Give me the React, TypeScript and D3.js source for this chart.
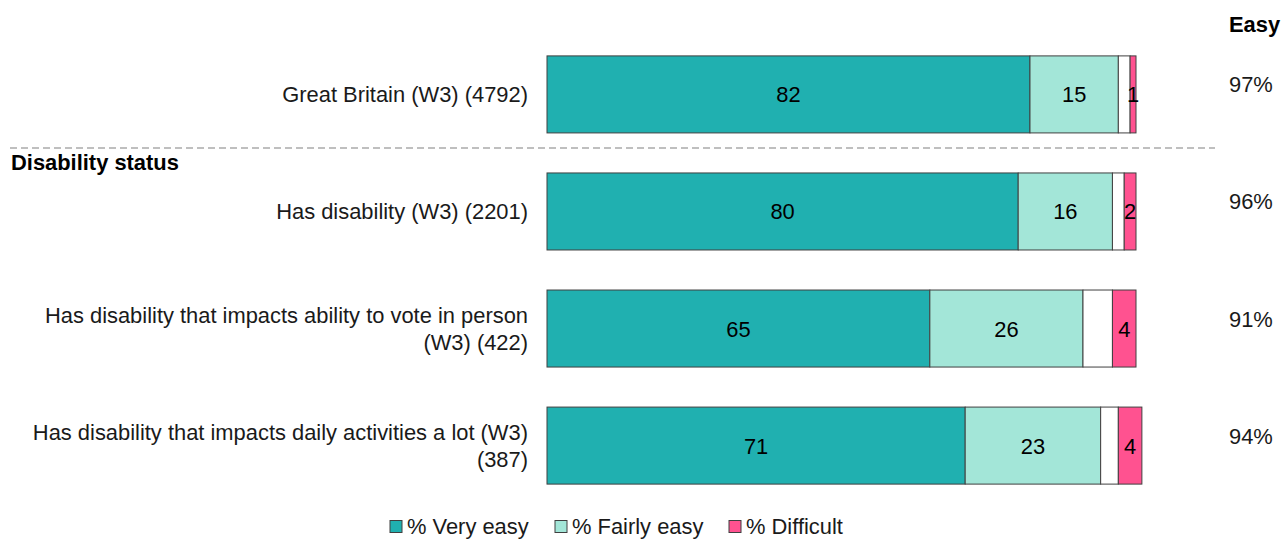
import React from 'react';
import * as d3 from 'd3';

// ── Data ─────────────────────────────────────────────────────────────────────
const categories = [
  ['Great Britain (W3) (4792)'],
  ['Has disability (W3) (2201)'],
  ['Has disability that impacts ability to vote in person', '(W3) (422)'],
  ['Has disability that impacts daily activities a lot (W3)', '(387)'],
];
const veryEasy = [82, 80, 65, 71];
const fairlyEasy = [15, 16, 26, 23];
const neither = [2, 2, 5, 3];
const difficult = [1, 2, 4, 4];
const easyTotals = ['97%', '96%', '91%', '94%'];

const seriesNames = ['% Very easy', '% Fairly easy', '', '% Difficult'];
const seriesColors = ['#20b0b0', '#a3e6d8', '#ffffff', '#ff5290'];

const W = 1282, H = 539;
const FONT = 'Liberation Sans, Arial, sans-serif';
const FS = 21.9;

export default function App() {
  const x = d3.scaleLinear().domain([0, 100]).range([547, 1136]);
  const y = d3.scaleBand().domain(d3.range(categories.length).map(String))
    .range([36, 504]).paddingInner(0.342).paddingOuter(0.17);

  const rows = categories.map((c, i) => {
    const vals = [veryEasy[i], fairlyEasy[i], neither[i], difficult[i]];
    const stack: { x0: number; x1: number; v: number; k: number }[] = [];
    let acc = 0;
    vals.forEach((v, k) => { stack.push({ x0: acc, x1: acc + v, v, k }); acc += v; });
    return { label: c, stack, total: easyTotals[i] };
  });

  const legendX = [390, 555, 729];
  const legendSeries = [0, 1, 3];

  return (
    <div style={{ position: 'absolute', left: 0, top: 0 }}>
      <svg width={W} height={H} style={{ display: 'block', fontFamily: FONT }}>
        <rect width={W} height={H} fill="#fff" />

        {/* Easy column header */}
        <text x={1229} y={32} fontSize={FS} fontWeight="bold" fill="#000">Easy</text>

        {/* Separator */}
        <line x1={10} x2={1215} y1={148} y2={148} stroke="#aaaaaa" strokeWidth={1.5} strokeDasharray="7,4" />
        <text x={11} y={170} fontSize={FS} fontWeight="bold" fill="#000">Disability status</text>

        {rows.map((r, i) => {
          const y0 = y(String(i))!;
          const bh = y.bandwidth();
          const cy = y0 + bh / 2;
          return (
            <g key={i}>
              {r.label.map((line, j) => (
                <text key={j} x={528} y={cy + 8 + (j - (r.label.length - 1) / 2) * 27}
                  fontSize={FS} textAnchor="end" fill="#1a1a1a">{line}</text>
              ))}
              {r.stack.map(s => (
                <g key={s.k}>
                  <rect x={x(s.x0)} y={y0} width={x(s.x1) - x(s.x0)} height={bh}
                    fill={seriesColors[s.k]} stroke="#404040" strokeWidth={1} />
                  {s.k !== 2 && (
                    <text x={(x(s.x0) + x(s.x1)) / 2} y={cy + 8} fontSize={FS}
                      textAnchor="middle" fill="#000">{s.v}</text>
                  )}
                </g>
              ))}
              <text x={1229} y={cy - 2} fontSize={FS} fill="#1a1a1a">{r.total}</text>
            </g>
          );
        })}

        {/* Legend */}
        {legendSeries.map((k, i) => (
          <g key={k}>
            <rect x={legendX[i]} y={520.5} width={12} height={12} fill={seriesColors[k]} stroke="#404040" strokeWidth={1} />
            <text x={legendX[i] + 17} y={533.5} fontSize={FS} fill="#1a1a1a">{seriesNames[k]}</text>
          </g>
        ))}
      </svg>
    </div>
  );
}
